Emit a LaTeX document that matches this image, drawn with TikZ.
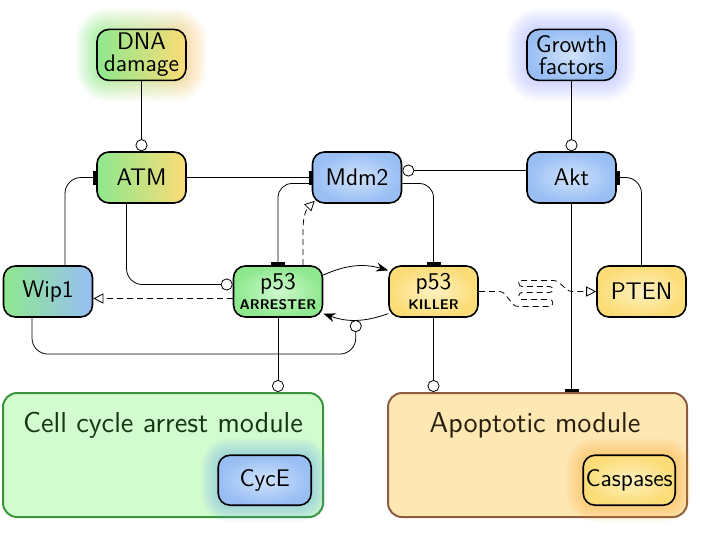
\documentclass[tikz,border=0pt]{standalone}
\usepackage{fontspec}
\usepackage{xcolor}
\usepackage{tikz}
\usetikzlibrary{arrows.meta,positioning,calc}

\definecolor{molgreen}{HTML}{8EE88E}
\definecolor{molgreenin}{HTML}{CFF9CF}
\definecolor{molblue}{HTML}{98BEF4}
\definecolor{molbluein}{HTML}{D0E2FB}
\definecolor{molyellow}{HTML}{FBDC76}
\definecolor{molyellowin}{HTML}{FEF1C0}
\definecolor{arrestfill}{HTML}{D2FBD0}
\definecolor{arrestdraw}{HTML}{3A963A}
\definecolor{arresttext}{HTML}{123812}
\definecolor{apofill}{HTML}{FDE7B2}
\definecolor{apodraw}{HTML}{8A5E3E}
\definecolor{apotext}{HTML}{2A1E0E}
\definecolor{glowblue}{HTML}{7080FF}
\definecolor{glowcyan}{HTML}{5AA0F0}
\definecolor{gloworange}{HTML}{FFAA30}
\definecolor{glowgreen}{HTML}{30E030}

\pgfdeclarelayer{modules}
\pgfdeclarelayer{glow}
\pgfsetlayers{modules,glow,main}

\begin{document}
\begin{tikzpicture}[
  x=0.5pt, y=-0.5pt,
  font=\sffamily,
  line width=0.8pt,
  mol/.style={draw, line width=0.8pt, rounded corners=6pt, minimum width=44.5pt, minimum height=25.5pt, align=center, inner sep=1pt, font=\sffamily\large},
  greenmol/.style={mol, inner color=molgreenin, outer color=molgreen},
  bluemol/.style={mol, inner color=molbluein, outer color=molblue},
  yellowmol/.style={mol, inner color=molyellowin, outer color=molyellow},
  module/.style={draw, line width=1pt, rounded corners=7pt, minimum height=62pt},
  act/.style={-{Circle[open, length=6pt]}},
  inh/.style={-{Bar[width=7pt, line width=1.5pt]}},
  flow/.style={-{Stealth[length=6pt, width=4.5pt]}},
  dashact/.style={dash pattern=on 3pt off 2pt, -{Triangle[open, length=5pt, width=5pt]}}
]
\useasboundingbox (0,0) rectangle (701,536);

% core network
\node[mol, left color=molgreen, right color=molyellow] (atm) at (141.5,177.5) {ATM};
\node[mol, left color=molgreen, right color=molyellow, above=35pt of atm] (dna) {DNA\\[-3pt]damage};
\node[bluemol] (mdm2) at (357,177.5) {Mdm2};
\node[bluemol] (akt) at (571.5,177.5) {Akt};
\node[bluemol, above=35pt of akt] (gf) {Growth\\[-3pt]factors};
\node[mol, left color=molgreen, right color=molblue] (wip) at (48,291.5) {Wip1};
\node[greenmol] (arr) at (278,291.5) {p53\\[-4pt]{\scriptsize\bfseries ARRESTER}};
\node[yellowmol] (kil) at (433.5,291.5) {p53\\[-4pt]{\scriptsize\bfseries KILLER}};
\node[yellowmol] (pten) at (641.5,291.5) {PTEN};

% modules
\begin{pgfonlayer}{modules}
\node[module, draw=arrestdraw, fill=arrestfill, minimum width=160pt] (arrest) at (163,455) {};
\node[module, draw=apodraw, fill=apofill, minimum width=149.5pt] (apo) at (537.5,455) {};
\node[font=\sffamily\Large, text=arresttext, anchor=base] (arresttitle) at (163,432) {Cell cycle arrest module};
\node[font=\sffamily\Large, text=apotext, anchor=base] (apotitle) at (535,432) {Apoptotic module};
\end{pgfonlayer}
\node[bluemol, minimum width=46.5pt, minimum height=25pt, above left=6pt and 6pt of arrest.south east] (cyce) {CycE};
\node[yellowmol, minimum width=46pt, minimum height=25pt, above left=6pt and 6pt of apo.south east] (casp) {Caspases};

% glows
\begin{pgfonlayer}{glow}
\foreach \g in {1,...,10} {
  \shade[left color=glowgreen, right color=gloworange, opacity=0.045, rounded corners={6pt+\g*1pt}]
    ([shift={(-\g*1pt,-\g*1pt)}]dna.south west) rectangle ([shift={(\g*1pt,\g*1pt)}]dna.north east);
  \fill[glowblue, opacity=0.035, rounded corners={6pt+\g*1pt}]
    ([shift={(-\g*1pt,-\g*1pt)}]gf.south west) rectangle ([shift={(\g*1pt,\g*1pt)}]gf.north east);
  \fill[glowcyan, opacity=0.04, rounded corners={6pt+\g*0.8pt}]
    ([shift={(-\g*0.8pt,-\g*0.8pt)}]cyce.south west) rectangle ([shift={(\g*0.8pt,\g*0.8pt)}]cyce.north east);
  \fill[gloworange, opacity=0.045, rounded corners={6pt+\g*0.8pt}]
    ([shift={(-\g*0.8pt,-\g*0.8pt)}]casp.south west) rectangle ([shift={(\g*0.8pt,\g*0.8pt)}]casp.north east);
}
\end{pgfonlayer}

% interactions
\draw[act] (dna) -- (atm);
\draw[act] (gf) -- (akt);
\draw[inh] (atm) -- (mdm2);
\draw[act] ([yshift=3.5pt]akt.west) -- ([yshift=3.5pt]mdm2.east);
\draw[inh, rounded corners=7pt] ([yshift=-3pt]mdm2.west) -| (arr.north);
\draw[inh, rounded corners=7pt] ([yshift=-3pt]mdm2.east) -| (kil.north);
\draw[dashact] ([xshift=12.5pt]arr.north) -- ++(0pt,18pt) to[out=90, in=225] ([shift={(1.5pt,1.5pt)}]mdm2.south west);
\draw[flow] (arr.20) to[bend left=20] (kil.155);
\draw[flow] (kil.206) to[bend left=20] node[coordinate, pos=0.5] (back) {} (arr.-26);
\draw[act, rounded corners=8pt] ([xshift=-8pt]wip.south) |- ([yshift=-17pt]back) -- (back);
\draw[inh, rounded corners=8pt] ([xshift=8.5pt]wip.north) |- (atm.west);
\draw[act, rounded corners=8pt] ([xshift=-7.5pt]atm.south) |- ([yshift=3.5pt]arr.west);
\draw[dashact] ([yshift=-3.5pt]arr.west) -- ([yshift=-3.5pt]wip.east);
\draw[act] (arr.south) -- (arr.south |- arrest.north);
\draw[act] (kil.south) -- (kil.south |- apo.north);
\draw[inh] (akt.south) -- (akt.south |- apo.north);
\draw[inh, rounded corners=8pt] (pten.north) |- (akt.east);
% delayed PTEN synthesis
\draw[dashact, rounded corners=1.6pt] (kil.east) -- ++(24,0) -- ++(12,15) -- ++(38,0) -- ++(0,-7) -- ++(-34,0) -- ++(0,-7)
  -- ++(34,0) -- ++(0,-6) -- ++(-34,0) -- ++(0,-6) -- ++(38,0) -- ++(12,11) -- (pten.west);
\end{tikzpicture}
\end{document}
